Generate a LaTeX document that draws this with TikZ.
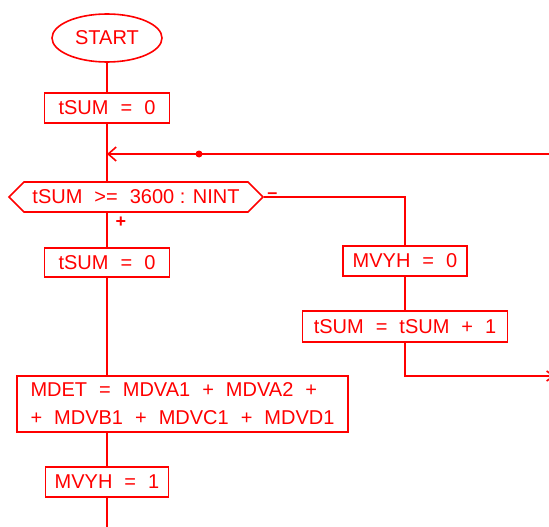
\documentclass[tikz,border=0pt]{standalone}
\usepackage{fontspec}
\setmainfont{Liberation Sans}
\usetikzlibrary{arrows.meta,shapes.geometric,shapes.symbols}
\definecolor{fc}{RGB}{255,0,0}
\newcommand{\gap}{\hspace{0.6em}}
\begin{document}
\begin{tikzpicture}[x=1pt,y=-1pt,
  every node/.style={text=fc,font=\fontsize{20}{28}\selectfont,inner sep=0pt},
  box/.style={draw=fc,line width=1.6pt,rectangle},
  conn/.style={draw=fc,line width=1.8pt},
  lbl/.style={font=\fontsize{18}{20}\selectfont\bfseries}]
\useasboundingbox (0,0) rectangle (549,527);
\node[draw=fc,line width=1.6pt,ellipse,minimum width=110pt,minimum height=48pt] (start) at (107,38) {START};
\node[box,minimum width=125pt,minimum height=30pt] (b1) at (107,108) {tSUM\gap=\gap0};
\node[draw=fc,line width=1.6pt,signal,signal to=west and east,signal pointer angle=90,minimum width=254pt,minimum height=30pt] (hex) at (136,197) {tSUM\gap>=\gap3600 : NINT};
\node[box,minimum width=125pt,minimum height=29pt] (b2) at (107,262.5) {tSUM\gap=\gap0};
\node[box,minimum width=124pt,minimum height=30pt] (m0) at (405,261) {MVYH\gap=\gap0};
\node[box,minimum width=205pt,minimum height=31pt] (t1) at (405,326.5) {tSUM\gap=\gap tSUM\gap+\gap1};
\node[box,minimum width=331pt,minimum height=56pt,align=left] (mdet) at (182.5,404) {MDET\gap=\gap MDVA1\gap+\gap MDVA2\gap+\\+\gap MDVB1\gap+\gap MDVC1\gap+\gap MDVD1};
\node[box,minimum width=123pt,minimum height=30pt] (m1) at (107,482) {MVYH\gap=\gap1};
\node[lbl] (plus) at (121,222) {+};
\node[lbl] (minus) at (272.5,196) {--};
\coordinate (J) at (107,154);
\coordinate (R) at (549,154);
\coordinate (dot) at (199,154);
\coordinate (bot) at (107,527);
\coordinate (ex) at (555,376);
\path[conn] (start.south) -- (b1.north);
\path[conn] (b1.south) -- (b1.south |- hex.north);
\path[conn] (b2.north |- hex.south) -- (b2.north);
\path[conn] (b2.south) -- (b2.south |- mdet.north);
\path[conn] (m1.north |- mdet.south) -- (m1.north);
\path[conn] (m1.south) -- (bot);
\path[conn,-{Straight Barb[length=8pt,width=14pt,line width=1.6pt]}] (R) -- (J);
\fill[fc] (dot) circle (3.5pt);
\path[conn] (hex.east) -| (m0.north);
\path[conn] (m0.south) -- (t1.north);
\path[conn,-{Straight Barb[length=7pt,width=10pt,line width=1.6pt]}] (t1.south) |- (ex);
\end{tikzpicture}
\end{document}
